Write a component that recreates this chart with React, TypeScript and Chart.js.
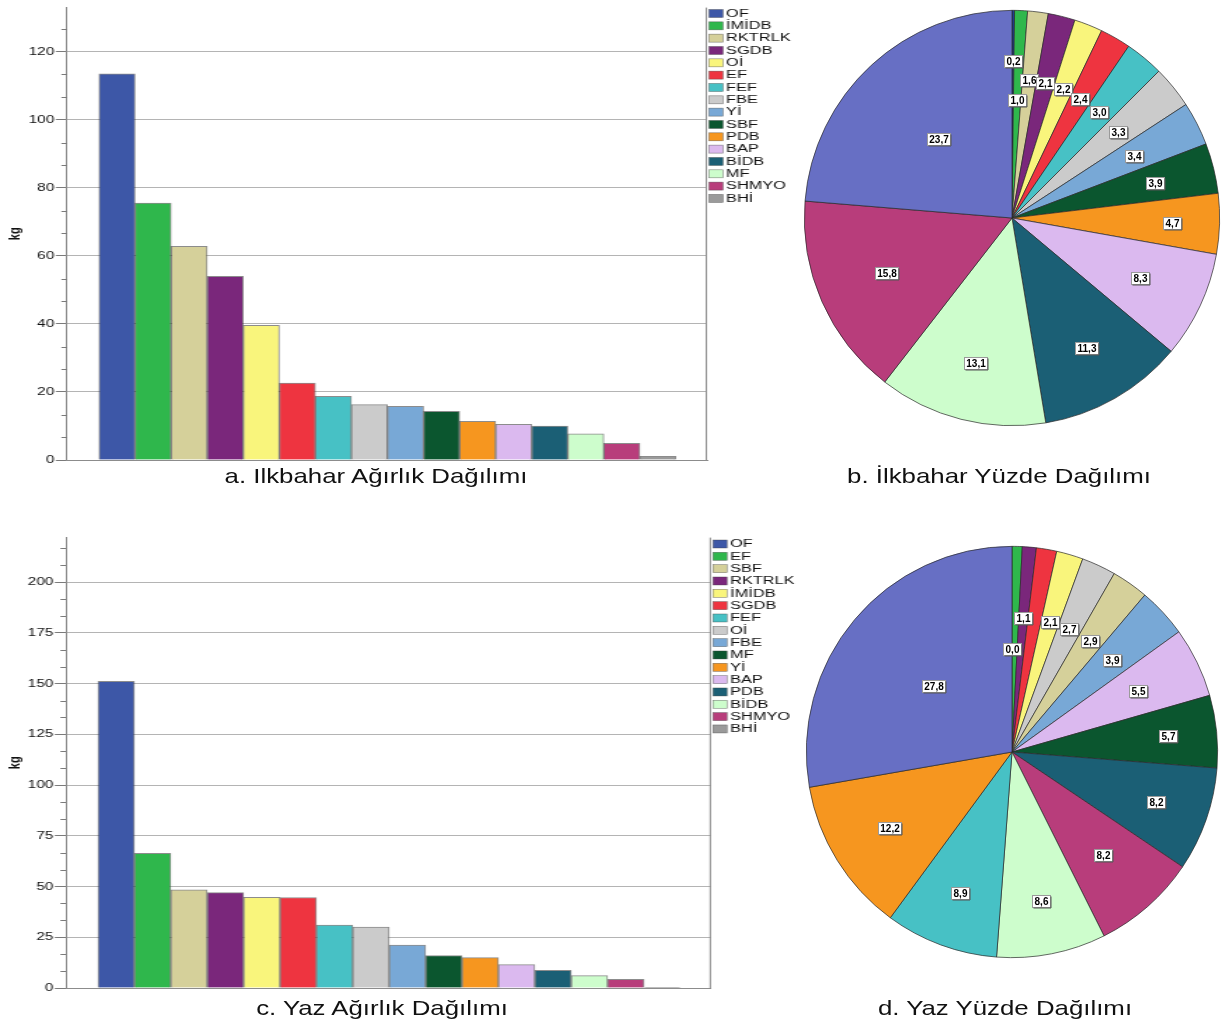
import React, { useEffect, useRef } from 'react';
import { Chart, registerables } from 'chart.js';

Chart.register(...registerables);
Chart.defaults.font.family = '"Liberation Sans", Arial, sans-serif';
Chart.defaults.color = '#222';

// ---------- DATA ----------
const springCategories = ['OF', 'İMİDB', 'RKTRLK', 'SGDB', 'Oİ', 'EF', 'FEF', 'FBE', 'Yİ', 'SBF', 'PDB', 'BAP', 'BİDB', 'MF', 'SHMYO', 'BHİ'];
const springWeights = [113.5, 75.5, 62.8, 54.0, 39.6, 22.6, 18.7, 16.3, 15.8, 14.3, 11.4, 10.5, 10.0, 7.7, 4.9, 1.1];

const summerCategories = ['OF', 'EF', 'SBF', 'RKTRLK', 'İMİDB', 'SGDB', 'FEF', 'Oİ', 'FBE', 'MF', 'Yİ', 'BAP', 'PDB', 'BİDB', 'SHMYO', 'BHİ'];
const summerWeights = [151.2, 66.4, 48.4, 47.0, 44.7, 44.6, 31.0, 30.0, 21.1, 16.0, 15.0, 11.5, 8.7, 6.1, 4.3, 0.2];

// pie slices, clockwise from 12 o'clock
const springPieLabels = [...springCategories].reverse();
const springPercents = [0.2, 1.0, 1.6, 2.1, 2.2, 2.4, 3.0, 3.3, 3.4, 3.9, 4.7, 8.3, 11.3, 13.1, 15.8, 23.7];
const summerPieLabels = [...summerCategories].reverse();
const summerPercents = [0.0, 0.8, 1.1, 1.6, 2.1, 2.7, 2.9, 3.9, 5.5, 5.7, 8.2, 8.2, 8.6, 8.9, 12.2, 27.8];

// axis ticks
const springTickStep = 20;
const springAxisMax = 133;
const summerTickStep = 25;
const summerAxisMax = 222;

const captions = ['a. Ilkbahar Ağırlık Dağılımı', 'b. İlkbahar Yüzde Dağılımı', 'c. Yaz Ağırlık Dağılımı', 'd. Yaz Yüzde Dağılımı'];

// ---------- STYLES ----------
const barPalette = ['#3d57a7', '#2fb74c', '#d5d09a', '#7a277b', '#f9f57c', '#ee3440', '#47c1c5', '#cbcbcb', '#78a8d6', '#0b562f', '#f6961f', '#dbb9ef', '#1b5f75', '#cdfdcc', '#b83d7b', '#9a9a9a'];
const springPieColors = ['#1f3b8f', '#2fb74c', '#d5d09a', '#7a277b', '#f9f57c', '#ee3440', '#47c1c5', '#cbcbcb', '#78a8d6', '#0b562f', '#f6961f', '#dbb9ef', '#1b5f75', '#cdfdcc', '#b83d7b', '#676fc4'];
const summerPieColors = ['#1f3b8f', '#2fb74c', '#7a277b', '#ee3440', '#f9f57c', '#cbcbcb', '#d5d09a', '#78a8d6', '#dbb9ef', '#0b562f', '#1b5f75', '#b83d7b', '#cdfdcc', '#47c1c5', '#f6961f', '#676fc4'];
const springLabelRadius = [0.755, 0.57, 0.67, 0.67, 0.67, 0.66, 0.66, 0.66, 0.66, 0.71, 0.77, 0.68, 0.72, 0.72, 0.66, 0.52];
const summerLabelRadius = [0.5, 0.66, 0.655, 0.66, 0.66, 0.66, 0.66, 0.66, 0.68, 0.76, 0.74, 0.67, 0.74, 0.73, 0.70, 0.50];
const summerHiddenLabels = [1, 3];

const S = 1.4; // horizontal stretch of bar panels
const CW = 572;
const CH = 470;

type BarProps = {
  categories: string[];
  values: number[];
  step: number;
  yMax: number;
  top: number;
  chartLeft: number;
  chartRight: number;
  chartTop: number;
  chartBottom: number;
  firstBarLeft: number;
  barWidth: number;
  legendFirstY: number;
};

function BarPanel(p: BarProps) {
  const ref = useRef<HTMLCanvasElement>(null);
  useEffect(() => {
    const unit = p.barWidth / S;
    const plotW = (p.chartRight - p.chartLeft) / S;
    const range = plotW / unit;
    const off = (p.firstBarLeft - p.chartLeft) / p.barWidth;
    const xMin = -0.5 - off;
    const xMax = xMin + range;

    const framePlugin = {
      id: 'frame',
      afterDraw(chart: any) {
        const { ctx, chartArea: a, scales } = chart;
        const y = scales.y;
        ctx.save();
        // right border
        ctx.strokeStyle = '#8c8c8c';
        ctx.lineWidth = 1;
        ctx.beginPath();
        ctx.moveTo(a.right - 0.5, a.top);
        ctx.lineTo(a.right - 0.5, a.bottom);
        ctx.stroke();
        // minor ticks
        ctx.strokeStyle = '#7a7a7a';
        ctx.beginPath();
        const minor = p.step / 3;
        for (let k = 1; k * minor <= p.yMax + 1e-6; k++) {
          if (k % 3 === 0) continue;
          const py = Math.round(y.getPixelForValue(k * minor)) + 0.5;
          ctx.moveTo(a.left - 4, py);
          ctx.lineTo(a.left, py);
        }
        ctx.stroke();
        // legend
        const bx = a.right + 2 / S;
        const bw = 14 / S;
        const tx = bx + 17 / S;
        ctx.font = '10px "Liberation Sans", Arial, sans-serif';
        ctx.textBaseline = 'middle';
        ctx.textAlign = 'left';
        p.categories.forEach((name, i) => {
          const cy = p.legendFirstY + i * 12.33;
          ctx.fillStyle = barPalette[i];
          ctx.fillRect(bx, cy - 4, bw, 8);
          ctx.strokeStyle = 'rgba(60,60,60,0.6)';
          ctx.lineWidth = 0.6;
          ctx.strokeRect(bx, cy - 4, bw, 8);
          ctx.save();
          ctx.translate(tx, cy + 0.5);
          ctx.scale(1.17, 1);
          ctx.fillStyle = '#111';
          ctx.fillText(name, 0, 0);
          ctx.restore();
        });
        ctx.restore();
      },
    };

    const chart = new Chart(ref.current as HTMLCanvasElement, {
      type: 'bar',
      data: {
        datasets: [
          {
            data: p.values.map((v, i) => ({ x: i, y: v })),
            backgroundColor: barPalette.slice(0, p.values.length),
            borderColor: 'rgba(45,45,45,0.55)',
            borderWidth: 1,
            barPercentage: 1,
            categoryPercentage: 1,
          } as any,
        ],
      },
      options: {
        responsive: false,
        animation: false,
        events: [],
        layout: {
          padding: {
            left: 0,
            right: CW - p.chartRight / S,
            top: p.chartTop,
            bottom: CH - p.chartBottom,
          },
        },
        plugins: { legend: { display: false }, tooltip: { enabled: false } },
        scales: {
          x: {
            type: 'linear',
            offset: false,
            min: xMin,
            max: xMax,
            ticks: { display: false },
            grid: { display: false, drawTicks: false, offset: false },
            border: { display: true, color: '#8c8c8c', width: 1 },
            afterFit: (s: any) => {
              s.height = 0;
            },
          },
          y: {
            min: 0,
            max: p.yMax,
            ticks: {
              stepSize: p.step,
              includeBounds: false,
              padding: 1,
              color: '#111',
              font: { size: 11 },
            },
            grid: {
              color: (c: any) => (c.tick && c.tick.value === 0 ? 'rgba(0,0,0,0)' : '#b4b4b4'),
              tickColor: '#7a7a7a',
              tickLength: 8,
              lineWidth: 1,
            },
            border: { display: true, color: '#8c8c8c', width: 1 },
            title: {
              display: true,
              text: 'kg',
              color: '#111',
              font: { size: 11, weight: 'bold' },
              padding: { top: 4, bottom: 0 },
            },
            afterFit: (s: any) => {
              s.width = p.chartLeft / S;
            },
          },
        } as any,
      },
      plugins: [framePlugin],
    });
    return () => chart.destroy();
  }, []);
  return (
    <div
      style={{
        position: 'absolute',
        left: 0,
        top: p.top,
        width: CW,
        height: CH,
        transform: `scaleX(${S})`,
        transformOrigin: '0 0',
      }}
    >
      <canvas ref={ref} width={CW} height={CH} style={{ display: 'block' }} />
    </div>
  );
}

type PieProps = {
  labels: string[];
  values: number[];
  colors: string[];
  labelRadius: number[];
  hidden: number[];
  cx: number;
  cy: number;
  r: number;
};

function PiePanel(p: PieProps) {
  const ref = useRef<HTMLCanvasElement>(null);
  const size = p.r * 2 + 4;
  useEffect(() => {
    const labelPlugin = {
      id: 'pieLabels',
      afterDatasetsDraw(chart: any) {
        const meta = chart.getDatasetMeta(0);
        const ctx = chart.ctx;
        const vals = chart.data.datasets[0].data as number[];
        ctx.save();
        ctx.font = 'bold 10px "Liberation Sans", Arial, sans-serif';
        ctx.textAlign = 'center';
        ctx.textBaseline = 'middle';
        meta.data.forEach((arc: any, i: number) => {
          if (p.hidden.includes(i)) return;
          const { x, y, startAngle, endAngle, outerRadius } = arc.getProps(['x', 'y', 'startAngle', 'endAngle', 'outerRadius'], true);
          const mid = (startAngle + endAngle) / 2;
          const rr = outerRadius * p.labelRadius[i];
          const px = x + Math.cos(mid) * rr;
          const py = y + Math.sin(mid) * rr;
          const text = vals[i].toFixed(1).replace('.', ',');
          const w = Math.round(ctx.measureText(text).width + 4);
          const h = 12;
          const lx = Math.round(px - w / 2) + 0.5;
          const ly = Math.round(py - h / 2) + 0.5;
          ctx.fillStyle = '#ffffff';
          ctx.fillRect(lx, ly, w, h);
          ctx.strokeStyle = '#9a9a9a';
          ctx.lineWidth = 1;
          ctx.strokeRect(lx, ly, w, h);
          ctx.strokeStyle = '#555';
          ctx.beginPath();
          ctx.moveTo(lx + 1, ly + h + 0.5);
          ctx.lineTo(lx + w + 0.5, ly + h + 0.5);
          ctx.lineTo(lx + w + 0.5, ly + 1);
          ctx.stroke();
          ctx.fillStyle = '#000';
          ctx.fillText(text, lx + w / 2, ly + h / 2 + 0.5);
        });
        ctx.restore();
      },
    };
    const chart = new Chart(ref.current as HTMLCanvasElement, {
      type: 'pie',
      data: {
        labels: p.labels,
        datasets: [
          {
            data: p.values,
            backgroundColor: p.colors,
            borderColor: '#2a2a2a',
            borderWidth: 0.7,
          },
        ],
      },
      options: {
        responsive: false,
        animation: false,
        events: [],
        layout: { padding: 2 },
        plugins: { legend: { display: false }, tooltip: { enabled: false } },
      },
      plugins: [labelPlugin],
    });
    return () => chart.destroy();
  }, []);
  return (
    <canvas
      ref={ref}
      width={size}
      height={size}
      style={{ position: 'absolute', left: p.cx - size / 2, top: p.cy - size / 2, display: 'block' }}
    />
  );
}

function Caption({ text, cx, top }: { text: string; cx: number; top: number }) {
  return (
    <div
      style={{
        position: 'absolute',
        left: cx - 300,
        top,
        width: 600,
        textAlign: 'center',
        fontFamily: '"Liberation Sans", Arial, sans-serif',
        fontSize: 21,
        lineHeight: '24px',
        color: '#111',
        transform: 'scaleX(1.23)',
        transformOrigin: '50% 50%',
        whiteSpace: 'nowrap',
      }}
    >
      {text}
    </div>
  );
}

export default function App() {
  return (
    <div
      style={{
        position: 'absolute',
        left: 0,
        top: 0,
        width: 1221,
        height: 1027,
        background: '#ffffff',
        overflow: 'hidden',
      }}
    >
      <BarPanel
        categories={springCategories}
        values={springWeights}
        step={springTickStep}
        yMax={springAxisMax}
        top={0}
        chartLeft={67}
        chartRight={707}
        chartTop={7}
        chartBottom={460}
        firstBarLeft={99}
        barWidth={36.06}
        legendFirstY={13.5}
      />
      <BarPanel
        categories={summerCategories}
        values={summerWeights}
        step={summerTickStep}
        yMax={summerAxisMax}
        top={530}
        chartLeft={66}
        chartRight={711}
        chartTop={7}
        chartBottom={458}
        firstBarLeft={98}
        barWidth={36.4}
        legendFirstY={14}
      />
      <PiePanel
        labels={springPieLabels}
        values={springPercents}
        colors={springPieColors}
        labelRadius={springLabelRadius}
        hidden={[]}
        cx={1012}
        cy={218}
        r={208}
      />
      <PiePanel
        labels={summerPieLabels}
        values={summerPercents}
        colors={summerPieColors}
        labelRadius={summerLabelRadius}
        hidden={summerHiddenLabels}
        cx={1012}
        cy={752}
        r={206}
      />
      <Caption text={captions[0]} cx={376} top={464} />
      <Caption text={captions[1]} cx={999} top={464} />
      <Caption text={captions[2]} cx={382} top={996} />
      <Caption text={captions[3]} cx={1005} top={996} />
    </div>
  );
}
